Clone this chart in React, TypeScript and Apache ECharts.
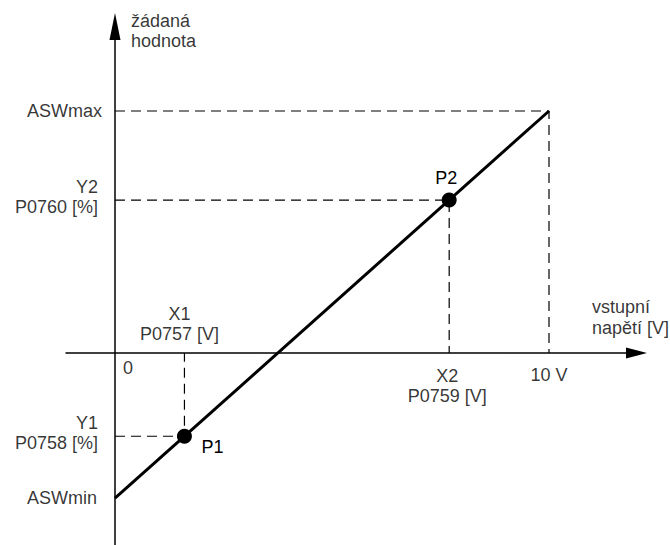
import React, { useEffect, useRef } from "react";
import * as echarts from "echarts";

// characteristic: input voltage [V] -> setpoint [%]
const lineX = [0, 10];
const lineY = [-60, 100]; // ASWmin, ASWmax
const pointNames = ["P1", "P2"];
const pointX = [1.6, 7.7]; // X1 (P0757), X2 (P0759)
const pointY = [-34.4, 63.2]; // Y1 (P0758), Y2 (P0760)
const yLabels = ["ASWmax", "Y2\nP0760 [%]", "Y1\nP0758 [%]", "ASWmin"];
const yLabelValues = [100, 63.2, -34.4, -60];
const xLabels = ["0", "X1\nP0757 [V]", "X2\nP0759 [V]", "10 V"];
const xLabelValues = [0, 1.6, 7.7, 10];
const xAxisName = "vstupní\nnapětí [V]";
const yAxisName = "žádaná\nhodnota";

const X_MIN = -1.129;
const X_MAX = 12.016;
const Y_MIN = -79.34;
const Y_MAX = 134.92;

const FONT = "'Liberation Sans', Arial, sans-serif";

export default function App() {
  const ref = useRef<HTMLDivElement>(null);

  useEffect(() => {
    if (!ref.current) return;
    const chart = echarts.init(ref.current, undefined, { renderer: "svg" });

    const txt = { color: "#000", fontFamily: FONT, fontSize: 18, lineHeight: 20 };

    const guides: any[] = [];
    const guideSrc = [
      { x: lineX[1], y: lineY[1] },
      ...pointX.map((x, i) => ({ x, y: pointY[i] })),
    ];
    guideSrc.forEach((g) => {
      guides.push({
        type: "line",
        data: [
          [0, g.y],
          [g.x, g.y],
          [g.x, 0],
        ],
        symbol: "none",
        silent: true,
        z: 1,
        lineStyle: { color: "#000", width: 1.2, type: [10, 6] },
      });
    });

    const yLabelLayout = [
      { offset: [-13, 0] },
      { offset: [-17, -3] },
      { offset: [-17, -3] },
      { offset: [-18, 0] },
    ];
    const xLabelLayout = [
      { align: "left", offset: [8, 15] },
      { align: "center", offset: [-5, -29] },
      { align: "center", offset: [-2, 33] },
      { align: "center", offset: [0, 22] },
    ];

    const labelData: any[] = [];
    yLabels.forEach((t, i) => {
      labelData.push({
        value: [0, yLabelValues[i]],
        label: { ...txt, formatter: t, align: "right", verticalAlign: "middle", offset: yLabelLayout[i].offset },
      });
    });
    xLabels.forEach((t, i) => {
      labelData.push({
        value: [xLabelValues[i], 0],
        label: {
          ...txt,
          formatter: t,
          align: xLabelLayout[i].align,
          verticalAlign: "middle",
          offset: xLabelLayout[i].offset,
        },
      });
    });
    labelData.push({
      value: [X_MAX, 0],
      label: { ...txt, lineHeight: 21, formatter: xAxisName, align: "left", verticalAlign: "middle", offset: [-44.5, -36] },
    });
    labelData.push({
      value: [0, Y_MAX],
      label: { ...txt, lineHeight: 20, formatter: yAxisName, align: "left", verticalAlign: "middle", offset: [16, 4] },
    });

    const pointLabelLayout = [
      { offset: [28, 11] },
      { offset: [-3, -22] },
    ];

    chart.setOption({
      animation: false,
      backgroundColor: "#fff",
      grid: { left: 66, right: 33.5, top: 26.5, bottom: 0, containLabel: false },
      xAxis: {
        type: "value",
        min: X_MIN,
        max: X_MAX,
        axisLine: {
          show: true,
          onZero: true,
          symbol: ["none", "triangle"],
          symbolSize: [11, 21],
          lineStyle: { color: "#000", width: 1.5 },
        },
        axisTick: { show: false },
        axisLabel: { show: false },
        splitLine: { show: false },
      },
      yAxis: {
        type: "value",
        min: Y_MIN,
        max: Y_MAX,
        axisLine: {
          show: true,
          onZero: true,
          symbol: ["none", "triangle"],
          symbolSize: [11, 27],
          lineStyle: { color: "#000", width: 1.5 },
        },
        axisTick: { show: false },
        axisLabel: { show: false },
        splitLine: { show: false },
      },
      series: [
        ...guides,
        {
          type: "line",
          data: lineX.map((x, i) => [x, lineY[i]]),
          symbol: "none",
          silent: true,
          z: 3,
          lineStyle: { color: "#000", width: 3 },
        },
        {
          type: "scatter",
          z: 4,
          symbolSize: 15,
          itemStyle: { color: "#000", opacity: 1 },
          data: pointNames.map((n, i) => ({
            value: [pointX[i], pointY[i]],
            name: n,
            label: {
              show: true,
              ...txt,
              formatter: n,
              position: "inside",
              align: "center",
              verticalAlign: "middle",
              offset: pointLabelLayout[i].offset,
            },
          })),
        },
        {
          type: "scatter",
          z: 5,
          symbolSize: 0.1,
          itemStyle: { color: "transparent" },
          silent: true,
          label: { show: true, position: "inside" },
          data: labelData.map((d) => ({ ...d, label: { show: true, position: "inside", ...d.label } })),
        },
      ],
    });

    return () => chart.dispose();
  }, []);

  return (
    <div
      ref={ref}
      style={{ position: "absolute", left: 0, top: 0, width: 670, height: 545, background: "#fff" }}
    />
  );
}
